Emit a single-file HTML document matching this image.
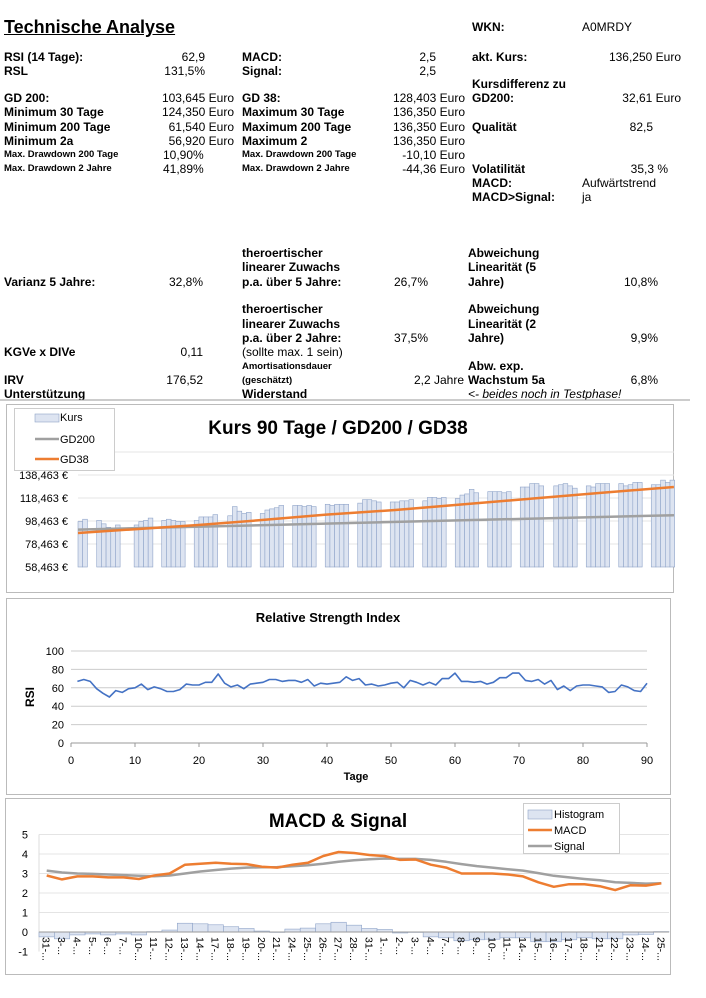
<!DOCTYPE html>
<html><head><meta charset="utf-8"><style>
body{margin:0;width:706px;height:998px;background:#fff;position:relative;overflow:hidden;font-family:"Liberation Sans",Arial,sans-serif;color:#000}
.t{position:absolute;white-space:nowrap;font-size:12px;line-height:14px;font-weight:bold}
.n{font-weight:normal}
.s{font-size:9.5px}
.i{font-style:italic;font-weight:normal}
svg{position:absolute;left:0;top:0}
</style></head><body>
<div id="txt"></div>
<svg id="g" width="706" height="998" xmlns="http://www.w3.org/2000/svg" font-family="Liberation Sans, Arial, sans-serif"></svg>
<script>
var T=[
[4,27,'Technische Analyse','L','big'],
[472,27,'WKN:','L',''],[582,27,'A0MRDY','L','n'],
[4,57,'RSI (14 Tage):','L',''],[205,57,'62,9','R','n'],[242,57,'MACD:','L',''],[436,57,'2,5','R','n'],[472,57,'akt. Kurs:','L',''],[681,57,'136,250 Euro','R','n'],
[4,71,'RSL','L',''],[205,71,'131,5%','R','n'],[242,71,'Signal:','L',''],[436,71,'2,5','R','n'],
[472,84,'Kursdifferenz zu','L',''],
[4,98,'GD 200:','L',''],[234,98,'103,645 Euro','R','n'],[242,98,'GD 38:','L',''],[465,98,'128,403 Euro','R','n'],[472,98,'GD200:','L',''],[681,98,'32,61 Euro','R','n'],
[4,112,'Minimum 30 Tage','L',''],[234,112,'124,350 Euro','R','n'],[242,112,'Maximum 30 Tage','L',''],[465,112,'136,350 Euro','R','n'],
[4,127,'Minimum 200 Tage','L',''],[234,127,'61,540 Euro','R','n'],[242,127,'Maximum 200 Tage','L',''],[465,127,'136,350 Euro','R','n'],[472,127,'Qualität','L',''],[653,127,'82,5','R','n'],
[4,141,'Minimum 2a','L',''],[234,141,'56,920 Euro','R','n'],[242,141,'Maximum 2','L',''],[465,141,'136,350 Euro','R','n'],
[4,155,'Max. Drawdown 200 Tage','L','s'],[163,155,'10,90%','L','n'],[242,155,'Max. Drawdown 200 Tage','L','s'],[465,155,'-10,10 Euro','R','n'],
[4,169,'Max. Drawdown 2 Jahre','L','s'],[163,169,'41,89%','L','n'],[242,169,'Max. Drawdown 2 Jahre','L','s'],[465,169,'-44,36 Euro','R','n'],[472,169,'Volatilität','L',''],[668,169,'35,3 %','R','n'],
[472,183,'MACD:','L',''],[582,183,'Aufwärtstrend','L','n'],
[472,197,'MACD>Signal:','L',''],[582,197,'ja','L','n'],
[242,253,'theroertischer','L',''],[468,253,'Abweichung','L',''],
[242,267,'linearer Zuwachs','L',''],[468,267,'Linearität (5','L',''],
[4,282,'Varianz 5 Jahre:','L',''],[203,282,'32,8%','R','n'],[242,282,'p.a. über 5 Jahre:','L',''],[428,282,'26,7%','R','n'],[468,282,'Jahre)','L',''],[658,282,'10,8%','R','n'],
[242,309,'theroertischer','L',''],[468,309,'Abweichung','L',''],
[242,324,'linearer Zuwachs','L',''],[468,324,'Linearität (2','L',''],
[242,338,'p.a. über 2 Jahre:','L',''],[428,338,'37,5%','R','n'],[468,338,'Jahre)','L',''],[658,338,'9,9%','R','n'],
[4,352,'KGVe x DIVe','L',''],[203,352,'0,11','R','n'],[242,352,'(sollte max. 1 sein)','L','n'],
[242,367,'Amortisationsdauer','L','s'],[468,366,'Abw. exp.','L',''],
[4,380,'IRV','L',''],[203,380,'176,52','R','n'],[242,381,'(geschätzt)','L','s'],[464,380,'2,2 Jahre','R','n'],[468,380,'Wachstum 5a','L',''],[658,380,'6,8%','R','n'],
[4,394,'Unterstützung','L',''],[242,394,'Widerstand','L',''],[468,394,'<- beides noch in Testphase!','L','i']
];
var h='';
T.forEach(function(r){
 var st='top:'+(r[1]-7)+'px;';
 if(r[3]=='L')st+='left:'+r[0]+'px;';else st+='right:'+(706-r[0])+'px;';
 var c='t '+r[4];
 if(r[4]=='big'){st='top:'+(r[1]-11)+'px;left:4px;font-size:18px;line-height:22px;text-decoration:underline;';}
 if(r[4]=='s')st+='font-size:9.5px;';
 h+='<div class="'+c+'" style="'+st+'">'+r[2].replace(/</g,'&lt;').replace(/>/g,'&gt;')+'</div>';
});
document.getElementById('txt').innerHTML=h;

var s='';
function R(x,y,w,hh,f,st,sw){s+='<rect x="'+x+'" y="'+y+'" width="'+w+'" height="'+hh+'" fill="'+f+'" stroke="'+(st||'none')+'" stroke-width="'+(sw||1)+'"/>';}
function L(x1,y1,x2,y2,c,w){s+='<line x1="'+x1+'" y1="'+y1+'" x2="'+x2+'" y2="'+y2+'" stroke="'+c+'" stroke-width="'+(w||1)+'"/>';}
function X(x,y,t,sz,anc,wt,ex){s+='<text x="'+x+'" y="'+y+'" font-size="'+sz+'" text-anchor="'+(anc||'start')+'" font-weight="'+(wt||'normal')+'" '+(ex||'')+'>'+t+'</text>';}
function P(pts,c,w){s+='<polyline fill="none" stroke="'+c+'" stroke-width="'+w+'" stroke-linejoin="round" points="'+pts.map(function(p){return p[0].toFixed(1)+','+p[1].toFixed(1)}).join(' ')+'"/>';}

L(0,400,690,400,'#999',1);
// Chart 1
R(6.5,404.5,667,188,'#fff','#bbb');
function sx(x){return 78+(x-78)*0.985;}
[452,475,498,521,544].forEach(function(y){L(78,y,674,y,'#e4e4e4');});
X(338,434,'Kurs 90 Tage / GD200 / GD38',19,'middle','bold');
[['138,463 €',475],['118,463 €',498],['98,463 €',521],['78,463 €',544],['58,463 €',567]].forEach(function(a){X(68,a[1]+4,a[0],11,'end');});
var K=[[98,100],[99,96,93,91,95],[95,98,99,101],[99,100,99,98,98],[99,102,102,102,104],[103,111,107,105,106],[105,108,109,110,112],[112,112,111,112,111],[113,112,113,113,113],[114,117,117,116,115],[115,115,116,116,117],[116,119,119,118,119],[118,121,122,126,123],[124,124,124,123,124],[128,128,131,131,129],[129,130,131,129,127],[129,128,131,131,131],[131,129,130,132,132],[130,130,134,132,134]];
var starts=[78,97,135,163,196,230,263,296,329,362,395,428,461,494,527,561,594,627,660];
var bw=4.68;
function ky(v){return 567-(v-58.463)*1.15;}
K.forEach(function(wk,i){var x0=sx(starts[i]);wk.forEach(function(v,j){var y=ky(v);R(x0+j*bw,y,bw,567-y,'#dde4f1','#8fa4c9',0.6);});});
P([[78,ky(91)],[674,ky(103.5)]],'#a0a0a0',2.5);
var g38=[[78,ky(88)],[130,ky(91)],[200,ky(95)],[260,ky(99)],[330,ky(104)],[400,ky(108)],[470,ky(113)],[540,ky(118)],[610,ky(123)],[683,ky(128)]].map(function(p){return [sx(p[0]),p[1]];});
P(g38,'#ed7d31',2.5);
R(14.5,408.5,100,62,'#fff','#ccc');
R(35,414,24,8,'#dde4f1','#8fa4c9',0.6);X(60,421,'Kurs',11);
L(35,439,59,439,'#a0a0a0',2.5);X(60,443,'GD200',11);
L(35,459,59,459,'#ed7d31',2.5);X(60,463,'GD38',11);

// Chart 2
R(6.5,598.5,664,196,'#fff','#bbb');
X(328,622,'Relative Strength Index',13,'middle','bold');
var rx0=71,rx1=647;
function ry(v){return 743-v*0.92;}
[0,20,40,60,80,100].forEach(function(v){L(rx0,ry(v),rx1,ry(v),v==0?'#999':'#ccc');X(rx0-7,ry(v)+4,v,11,'end');});
for(var k=0;k<=90;k+=10){var x=rx0+k*(rx1-rx0)/90;L(x,743,x,747,'#999');X(x,764,k,11,'middle');}
X(356,780,'Tage',11,'middle','bold');
X(34,697,'RSI',12,'middle','bold','transform="rotate(-90 34 697)"');
var RS=[67,69,67,59,54,50,57,55,59,60,64,58,61,59,56,56,58,64,63,63,66,66,75,65,61,63,59,64,65,66,69,69,67,68,68,66,69,62,65,64,65,66,72,68,70,63,64,62,63,65,66,60,68,66,63,66,63,70,70,76,67,67,66,67,64,66,71,71,76,76,68,67,69,64,68,58,62,57,62,63,63,62,61,55,56,63,61,57,56,65,59];
RS=RS.slice(0,90);
P(RS.map(function(v,i){return [rx0+(i+1)*(rx1-rx0)/90,ry(v)];}),'#4472c4',1.6);

// Chart 3
R(5.5,798.5,665,176,'#fff','#bbb');
X(338,827,'MACD &amp; Signal',19,'middle','bold');
function my(v){return 932-v*19.5;}
var mx0=39,mx1=669,n=41,sl=(mx1-mx0)/n;
[5,4,3,2,1,0,-1].forEach(function(v){if(v>0)L(mx0,my(v),mx1,my(v),'#e4e4e4');X(28,my(v)+4,v,11,'end');});
L(mx0,my(5),mx0,my(-1),'#ddd');
var HI=[-0.25,-0.35,-0.15,-0.1,-0.15,-0.1,-0.15,0.02,0.1,0.45,0.42,0.37,0.27,0.18,0.05,-0.02,0.15,0.2,0.42,0.5,0.35,0.18,0.13,-0.05,-0.02,-0.25,-0.3,-0.45,-0.4,-0.37,-0.3,-0.3,-0.5,-0.5,-0.4,-0.3,-0.35,-0.35,-0.15,-0.12,0.02];
HI.forEach(function(v,i){var y=Math.min(my(v),my(0));R(mx0+i*sl,y,sl,Math.abs(my(v)-my(0)),'#dde4f1','#8fa4c9',0.6);});
L(mx0,my(0),mx1,my(0),'#999');
var MA=[2.9,2.7,2.85,2.85,2.8,2.8,2.72,2.9,3.0,3.45,3.5,3.55,3.5,3.48,3.35,3.3,3.45,3.55,3.9,4.1,4.05,3.95,3.9,3.7,3.72,3.45,3.3,3.0,3.0,3.0,2.95,2.85,2.55,2.32,2.45,2.45,2.35,2.15,2.4,2.38,2.5];
var SG=[3.15,3.05,3.0,2.98,2.95,2.92,2.88,2.86,2.9,3.0,3.1,3.18,3.25,3.3,3.32,3.33,3.37,3.42,3.5,3.6,3.68,3.73,3.77,3.75,3.75,3.7,3.6,3.48,3.38,3.3,3.22,3.15,3.02,2.88,2.8,2.72,2.65,2.55,2.52,2.48,2.5];
P(SG.map(function(v,i){return [mx0+(i+0.5)*sl,my(v)];}),'#a0a0a0',2.5);
P(MA.map(function(v,i){return [mx0+(i+0.5)*sl,my(v)];}),'#ed7d31',2.5);
var CL=['31-','3-','4-','5-','6-','7-','10-','11-','12-','13-','14-','17-','18-','19-','20-','21-','24-','25-','26-','27-','28-','31-','1-','2-','3-','4-','7-','8-','9-','10-','11-','14-','15-','16-','17-','18-','21-','22-','23-','24-','25-'];
CL.forEach(function(c,i){var x=mx0+(i+0.5)*sl-4,y=937;X(x,y,c+'...',10.5,'start','normal','transform="rotate(90 '+x+' '+y+')"');});
R(523.5,803.5,96,50,'#fff','#ccc');
R(528,810,24,9,'#dde4f1','#8fa4c9',0.6);X(554,818,'Histogram',11);
L(528,830,552,830,'#ed7d31',2.5);X(554,834,'MACD',11);
L(528,846,552,846,'#a0a0a0',2.5);X(554,850,'Signal',11);
document.getElementById('g').innerHTML=s;
</script>
</body></html>
